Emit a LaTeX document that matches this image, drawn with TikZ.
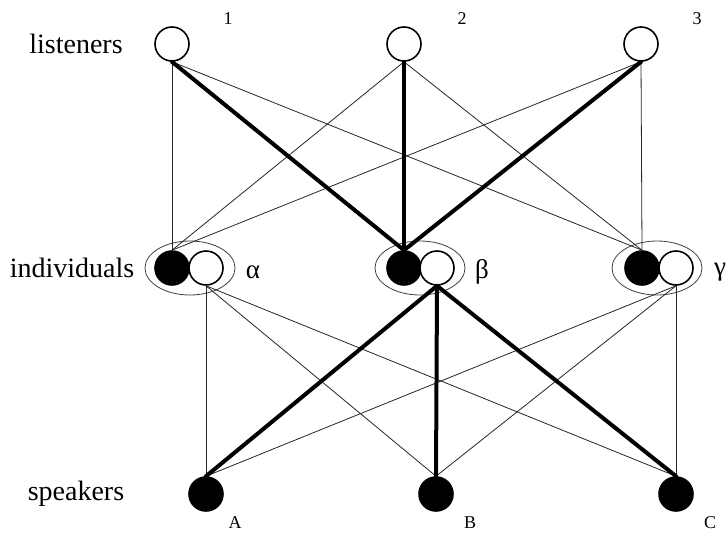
\documentclass[tikz,border=0pt]{standalone}
\usepackage{fontspec}
\setmainfont{Liberation Serif}
\usetikzlibrary{positioning}

\begin{document}
\begin{tikzpicture}[x=1pt, y=-1pt,
  rowlbl/.style={font=\fontsize{28}{30}\selectfont, inner sep=0pt},
  numlbl/.style={font=\fontsize{18}{20}\selectfont, inner sep=0pt},
  grklbl/.style={font=\fontsize{27}{29}\selectfont, inner sep=0pt},
  whitev/.style={circle, draw=black, line width=1.6pt, fill=white, minimum size=34pt, inner sep=0pt},
  blackv/.style={circle, draw=black, line width=1.6pt, fill=black, minimum size=34pt, inner sep=0pt},
  pairring/.style={draw=black!75, line width=0.8pt},
  thinedge/.style={draw=black!85, line width=0.8pt},
  thickedge/.style={draw=black, line width=4pt, line cap=round}
]
\useasboundingbox (0,0) rectangle (727,535);

% rings round each individual
\draw[pairring] (190,268) ellipse [x radius=45, y radius=27];
\draw[pairring] (420,268) ellipse [x radius=45, y radius=27];
\draw[pairring] (657,268) ellipse [x radius=45, y radius=27];

\node[whitev] (l1) at (172,44) {};
\node[whitev] (l2) at (404,44) {};
\node[whitev] (l3) at (641,44) {};
\node[blackv] (ba) at (172,268) {};
\node[whitev] (wa) at (206,268) {};
\node[blackv] (bb) at (404,268) {};
\node[whitev] (wb) at (437,268) {};
\node[blackv] (bc) at (642,268) {};
\node[whitev] (wc) at (676,268) {};
\node[blackv] (sA) at (206,494) {};
\node[blackv] (sB) at (436,494) {};
\node[blackv] (sC) at (676,494) {};

\draw[thinedge] (l1.south) -- (ba.north);
\draw[thinedge] (l1.south) -- (bc.north);
\draw[thinedge] (l2.south) -- (ba.north);
\draw[thinedge] (l2.south) -- (bc.north);
\draw[thinedge] (l3.south) -- (ba.north);
\draw[thinedge] (l3.south) -- (bc.north);
\draw[thickedge] (l1.south) -- (bb.north);
\draw[thickedge] (l2.south) -- (bb.north);
\draw[thickedge] (l3.south) -- (bb.north);

\draw[thinedge] (wa.south) -- (sA.north);
\draw[thinedge] (wa.south) -- (sB.north);
\draw[thinedge] (wa.south) -- (sC.north);
\draw[thinedge] (wc.south) -- (sA.north);
\draw[thinedge] (wc.south) -- (sB.north);
\draw[thinedge] (wc.south) -- (sC.north);
\draw[thickedge] (wb.south) -- (sA.north);
\draw[thickedge] (wb.south) -- (sB.north);
\draw[thickedge] (wb.south) -- (sC.north);

\node[rowlbl] (tl) at (76,44) {listeners};
\node[rowlbl] (ti) at (72,268) {individuals};
\node[rowlbl] (ts) at (76,494) {speakers};
\node[numlbl] (n1) at (228,19) {1};
\node[numlbl] (n2) at (462,19) {2};
\node[numlbl] (n3) at (697,19) {3};
\node[grklbl] (ga) at (253,272) {α};
\node[grklbl] (gb) at (482,272) {β};
\node[grklbl] (gc) at (720,272) {γ};
\node[numlbl] (na) at (235,523) {A};
\node[numlbl] (nb) at (470,523) {B};
\node[numlbl] (nc) at (710,523) {C};

\end{tikzpicture}
\end{document}
